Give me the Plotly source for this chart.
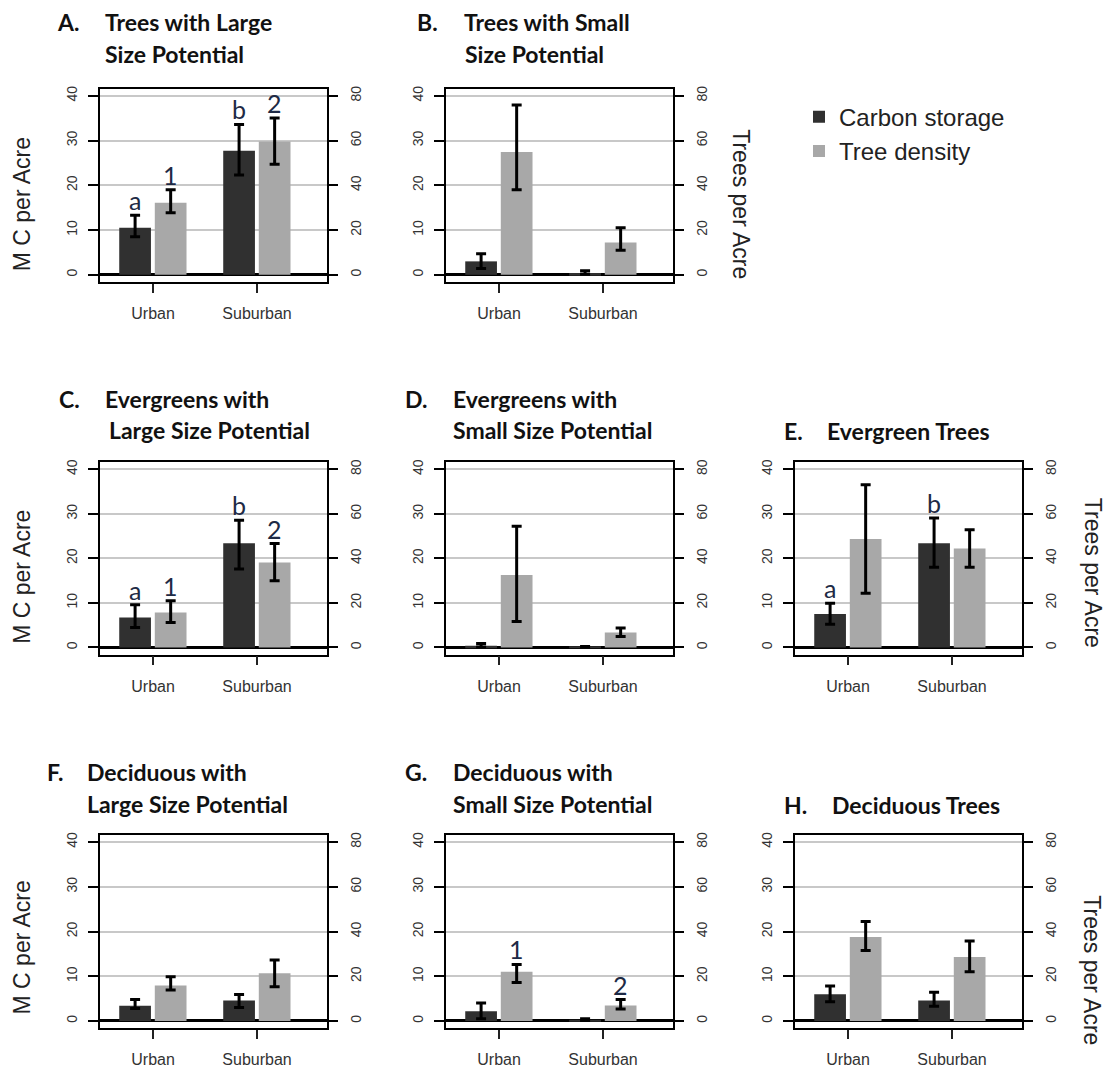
import plotly.graph_objects as go

W, H = 1107, 1068

categories = ["Urban", "Suburban"]
panel_letters = ["A.", "B.", "C.", "D.", "E.", "F.", "G.", "H."]
panel_titles = [
    ["Trees with Large", "Size Potential"],
    ["Trees with Small", "Size Potential"],
    ["Evergreens with", "Large Size Potential"],
    ["Evergreens with", "Small Size Potential"],
    ["Evergreen Trees"],
    ["Deciduous with", "Large Size Potential"],
    ["Deciduous with", "Small Size Potential"],
    ["Deciduous Trees"],
]

# Carbon storage (M C per acre), per panel: [Urban, Suburban]
carbon_mean = [[10.5, 27.7], [3.0, 0.4], [6.7, 23.4], [0.4, 0.15],
               [7.5, 23.4], [3.4, 4.6], [2.2, 0.3], [6.0, 4.6]]
carbon_upper = [[13.3, 33.6], [4.7, 0.9], [9.6, 28.6], [0.9, 0.2],
                [9.9, 29.1], [4.8, 5.9], [4.0, 0.5], [7.8, 6.4]]
carbon_lower = [[8.5, 22.3], [1.4, 0.1], [4.5, 17.6], [0.1, 0.1],
                [5.2, 18.0], [2.8, 3.0], [0.5, 0.1], [4.3, 3.3]]

# Tree density (trees per acre), per panel: [Urban, Suburban]
density_mean = [[32.2, 59.6], [54.9, 14.4], [15.7, 38.2], [32.5, 6.7],
                [48.7, 44.5], [15.9, 21.3], [22.0, 6.9], [37.5, 28.6]]
density_upper = [[38.0, 70.1], [75.9, 21.0], [21.0, 46.7], [54.4, 8.7],
                 [73.1, 52.9], [19.8, 27.3], [25.3, 9.6], [44.5, 35.8]]
density_lower = [[27.7, 49.4], [38.0, 11.0], [11.2, 30.0], [11.7, 4.9],
                 [24.3, 36.0], [13.8, 15.3], [17.2, 5.4], [31.5, 22.0]]

carbon_letters = [["a", "b"], ["", ""], ["a", "b"], ["", ""],
                  ["a", "b"], ["", ""], ["", ""], ["", ""]]
density_letters = [["1", "2"], ["", ""], ["1", "2"], ["", ""],
                   ["", ""], ["", ""], ["1", "2"], ["", ""]]

series_names = ["Carbon storage", "Tree density"]
left_ticks = [0, 10, 20, 30, 40]
right_ticks = [0, 20, 40, 60, 80]

# ---- layout geometry (pixels) ----
col_x = [(100, 327), (446, 673), (795, 1022)]
row_y = [(86, 280), (461, 654), (835, 1029)]
panel_cell = [(0, 0), (0, 1), (1, 0), (1, 1), (1, 2), (2, 0), (2, 1), (2, 2)]
title_pos = [  # letter x, text x line1, text x line2, y line1, y line2
    (55, 103, 103, 19, 51), (415, 462, 463, 19, 51),
    (57, 103, 107, 397, 429), (403, 451, 451, 397, 429),
    (782, 825, 825, 430, 430), (45, 85, 85, 772, 804),
    (403, 451, 451, 772, 804), (782, 830, 830, 805, 805),
]

DARK = "#303030"
LIGHT = "#a8a8a8"
BAR_W = 0.305
OFF_DARK = -0.325
OFF_LIGHT = 0.017
FONT = "Liberation Sans, Arial, sans-serif"
TFONT = "Lato, Open Sans, sans-serif"
LETTER_COLOR = "#1e2a45"


def px_x(p):
    return p / W


def px_y(p):
    return 1 - p / H


fig = go.Figure()
layout = dict(
    width=W, height=H, margin=dict(l=0, r=0, t=0, b=0),
    paper_bgcolor="white", plot_bgcolor="white",
    barmode="overlay", showlegend=True,
    legend=dict(x=px_x(799), y=px_y(92), xanchor="left", yanchor="top",
                font=dict(family=FONT, size=24, color="#222"),
                bgcolor="rgba(0,0,0,0)", tracegroupgap=0,
                itemsizing="constant"),
)
annotations = []

for i in range(8):
    r, c = panel_cell[i]
    xn = i + 1
    yl = 2 * i + 1
    yr = 2 * i + 2
    xname = "x" if xn == 1 else f"x{xn}"
    ylname = "y" if yl == 1 else f"y{yl}"
    yrname = f"y{yr}"
    xdom = [px_x(col_x[c][0]), px_x(col_x[c][1])]
    ydom = [px_y(row_y[r][1]), px_y(row_y[r][0])]

    layout["xaxis" if xn == 1 else f"xaxis{xn}"] = dict(
        domain=xdom, anchor=ylname, type="category",
        categoryorder="array", categoryarray=categories,
        range=[-0.51, 1.673], showline=True, mirror=True,
        linecolor="black", linewidth=1.5, ticks="outside", ticklen=9,
        tickwidth=1.5, tickcolor="#222", showgrid=False,
        ticklabelstandoff=7,
        tickfont=dict(family=FONT, size=16, color="#333"),
    )
    layout["yaxis" if yl == 1 else f"yaxis{yl}"] = dict(
        domain=ydom, anchor=xname, range=[-1.6, 41.6],
        tickvals=left_ticks, ticks="outside", ticklen=10, tickwidth=1.5,
        tickcolor="black", showgrid=True, gridcolor="#c8c8c8",
        gridwidth=1.5, zeroline=True, zerolinecolor="black",
        zerolinewidth=3, showline=True, mirror=True, linecolor="black",
        linewidth=1.5, tickangle=-90, ticklabelstandoff=6,
        tickfont=dict(family=FONT, size=14, color="#333"),
    )
    layout[f"yaxis{yr}"] = dict(
        domain=ydom, anchor=xname, overlaying=ylname, side="right",
        range=[-3.2, 83.2], tickvals=right_ticks, ticks="outside",
        ticklen=10, tickwidth=1.5, tickcolor="black", showgrid=False,
        zeroline=False, showline=False, tickangle=-90,
        ticklabelstandoff=6,
        tickfont=dict(family=FONT, size=14, color="#333"),
    )

    cm, cu, cl = carbon_mean[i], carbon_upper[i], carbon_lower[i]
    dm, du, dl = density_mean[i], density_upper[i], density_lower[i]

    fig.add_trace(go.Bar(
        x=categories, y=cm, xaxis=xname, yaxis=ylname,
        width=BAR_W, offset=OFF_DARK, marker=dict(color=DARK, line=dict(width=0)),
        name=series_names[0], showlegend=(i == 0), legendgroup="c",
        error_y=dict(type="data", symmetric=False,
                     array=[u - m for u, m in zip(cu, cm)],
                     arrayminus=[m - l for m, l in zip(cm, cl)],
                     color="black", thickness=3, width=5),
    ))
    fig.add_trace(go.Bar(
        x=categories, y=dm, xaxis=xname, yaxis=yrname,
        width=BAR_W, offset=OFF_LIGHT, marker=dict(color=LIGHT, line=dict(width=0)),
        name=series_names[1], showlegend=(i == 0), legendgroup="d",
        error_y=dict(type="data", symmetric=False,
                     array=[u - m for u, m in zip(du, dm)],
                     arrayminus=[m - l for m, l in zip(dm, dl)],
                     color="black", thickness=3, width=5),
    ))

    # significance letters
    lfont = dict(family=TFONT, size=25, color=LETTER_COLOR)
    for k in range(2):
        if carbon_letters[i][k]:
            annotations.append(dict(
                x=k + OFF_DARK + BAR_W / 2, y=cu[k], xref=xname, yref=ylname,
                text=carbon_letters[i][k], showarrow=False, yanchor="bottom",
                yshift=-2, font=lfont))
        if density_letters[i][k]:
            annotations.append(dict(
                x=k + OFF_LIGHT + BAR_W / 2, y=du[k], xref=xname, yref=yrname,
                text=density_letters[i][k], showarrow=False, yanchor="bottom",
                yshift=-2, font=lfont))

    # titles
    lx, tx1, tx2, ty1, ty2 = title_pos[i]
    tfont = dict(family=TFONT, size=23, color="#111")
    two = len(panel_titles[i]) > 1
    annotations.append(dict(x=px_x(lx), y=px_y(ty1 if two else ty2),
                            xref="paper", yref="paper", xanchor="left",
                            yanchor="middle", showarrow=False,
                            text="<b>" + panel_letters[i] + "</b>", font=tfont))
    if two:
        annotations.append(dict(x=px_x(tx1), y=px_y(ty1), xref="paper",
                                yref="paper", xanchor="left", yanchor="middle",
                                showarrow=False,
                                text="<b>" + panel_titles[i][0] + "</b>", font=tfont))
        annotations.append(dict(x=px_x(tx2), y=px_y(ty2), xref="paper",
                                yref="paper", xanchor="left", yanchor="middle",
                                showarrow=False,
                                text="<b>" + panel_titles[i][1] + "</b>", font=tfont))
    else:
        annotations.append(dict(x=px_x(tx1), y=px_y(ty2), xref="paper",
                                yref="paper", xanchor="left", yanchor="middle",
                                showarrow=False,
                                text="<b>" + panel_titles[i][0] + "</b>", font=tfont))

# axis titles
afont = dict(family=FONT, size=23, color="#222")
for yc in [202, 576, 948]:
    annotations.append(dict(x=px_x(22), y=px_y(yc), xref="paper", yref="paper",
                            text="M C per Acre", textangle=-90, showarrow=False,
                            xanchor="center", yanchor="middle", font=afont))
for xc, yc in [(741, 202), (1093, 572), (1092, 971)]:
    annotations.append(dict(x=px_x(xc), y=px_y(yc), xref="paper", yref="paper",
                            text="Trees per Acre", textangle=90, showarrow=False,
                            xanchor="center", yanchor="middle", font=afont))

layout["annotations"] = annotations
fig.update_layout(**layout)
fig.write_html("out.html")
